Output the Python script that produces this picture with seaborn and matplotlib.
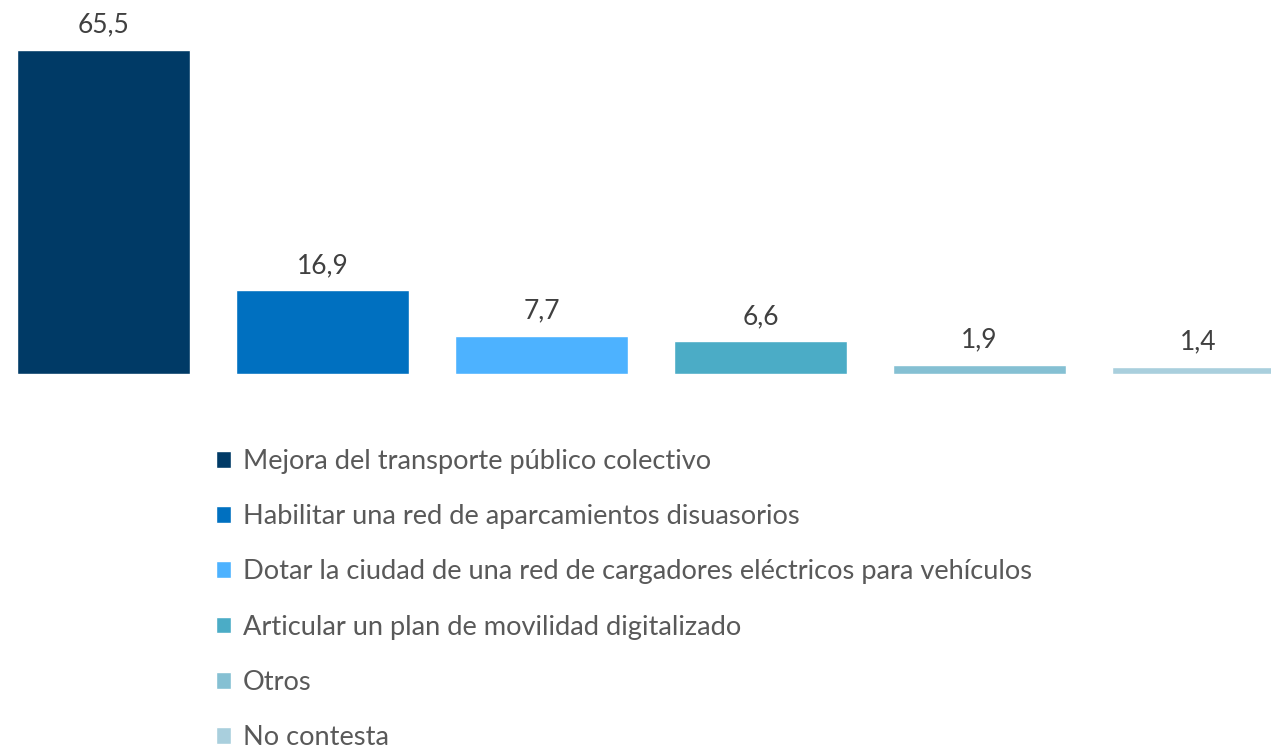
import matplotlib
matplotlib.use("Agg")
import matplotlib.pyplot as plt
import seaborn as sns
import pandas as pd

categories = [
    "Mejora del transporte público colectivo",
    "Habilitar una red de aparcamientos disuasorios",
    "Dotar la ciudad de una red de cargadores eléctricos para vehículos",
    "Articular un plan de movilidad digitalizado",
    "Otros",
    "No contesta",
]
values = [65.5, 16.9, 7.7, 6.6, 1.9, 1.4]
value_labels = ["65,5", "16,9", "7,7", "6,6", "1,9", "1,4"]
colors = ["#003A66", "#0070C0", "#4DB2FF", "#4BACC6", "#85C0D3", "#A9CFDD"]

sns.set_style("white")
plt.rcParams["font.family"] = ["Lato", "DejaVu Sans"]

df = pd.DataFrame({"cat": categories, "val": values})

fig = plt.figure(figsize=(12.71, 7.49), dpi=100)
ax = fig.add_axes([0, 0.5007, 1, 0.4993])
sns.barplot(data=df, x="cat", y="val", hue="cat", palette=colors,
            width=0.79, dodge=False, legend=False, ax=ax, saturation=1)
ax.set_xlim(-0.4726, 5.331)
ax.set_ylim(0, 75.6)
ax.axis("off")

for cont, lab in zip(ax.containers, value_labels):
    ax.bar_label(cont, labels=[lab], padding=9, fontsize=19, color="#404040")

handles = [cont.patches[0] for cont in ax.containers]
fig.legend(handles, categories, loc="upper left",
           bbox_to_anchor=(205 / 1271, 1 - 438 / 749),
           frameon=False, fontsize=19.6, labelcolor="#595959",
           handlelength=0.57, handleheight=0.57, handletextpad=0.42,
           labelspacing=1.11, borderaxespad=0)

fig.savefig("out.png", dpi=100)
